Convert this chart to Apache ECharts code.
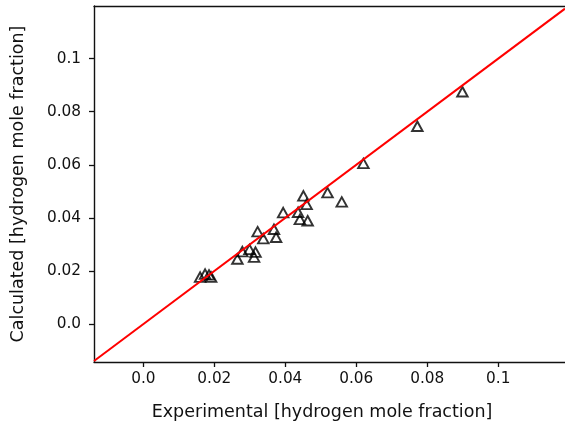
<!DOCTYPE html>
<html>
<head>
<meta charset="utf-8">
<script src="https://cdn.jsdelivr.net/npm/echarts@6/dist/echarts.min.js"></script>
<style>html,body{margin:0;padding:0;background:#fff}#c{width:565px;height:426px}</style>
</head>
<body>
<div id="c"></div>
<script>
// Data
const experimental = [0.0160,0.0174,0.0185,0.0191,0.0265,0.0279,0.0299,0.0312,0.0316,0.0322,0.0338,0.0368,0.0374,0.0394,0.0436,0.0441,0.0451,0.0460,0.0463,0.0519,0.0559,0.0620,0.0772,0.0899];
const calculated   = [0.0177,0.0188,0.0185,0.0177,0.0245,0.0273,0.0281,0.0252,0.0271,0.0348,0.0322,0.0357,0.0327,0.0420,0.0421,0.0394,0.0483,0.0451,0.0389,0.0495,0.0460,0.0605,0.0745,0.0875];
const xRange = [-0.0139, 0.1188];
const yRange = [-0.0143, 0.1198];
const tickValues = [0, 0.02, 0.04, 0.06, 0.08, 0.1];
const tickLabels = ['0.0', '0.02', '0.04', '0.06', '0.08', '0.1'];
const parityLine = [[xRange[0], xRange[0]], [xRange[1], xRange[1]]];

const fmt = v => {
  const i = tickValues.findIndex(t => Math.abs(t - v) < 1e-9);
  return i >= 0 ? tickLabels[i] : '';
};
const axisColor = '#111';
const font = 'DejaVu Sans';

const chart = echarts.init(document.getElementById('c'), null, {renderer: 'canvas'});
chart.setOption({
  animation: false,
  backgroundColor: '#fff',
  grid: {left: 94, right: 0, top: 6, bottom: 64, containLabel: false},
  xAxis: [{
    type: 'value', min: xRange[0], max: xRange[1], position: 'bottom',
    name: 'Experimental [hydrogen mole fraction]', nameLocation: 'middle', nameGap: 41,
    nameTextStyle: {fontFamily: font, fontSize: 17.5, color: '#111', padding: [0, 15, 0, 0]},
    axisLine: {show: true, onZero: false, lineStyle: {color: axisColor, width: 1.4}},
    axisTick: {show: true, length: 5, customValues: tickValues, lineStyle: {color: axisColor, width: 1.3}},
    axisLabel: {customValues: tickValues, formatter: fmt, margin: 10, fontFamily: font, fontSize: 15.3, color: '#111'},
    splitLine: {show: false}
  }, {
    type: 'value', min: xRange[0], max: xRange[1], position: 'top',
    axisLine: {show: true, onZero: false, lineStyle: {color: axisColor, width: 1.4}},
    axisTick: {show: false}, axisLabel: {show: false}, splitLine: {show: false}
  }],
  yAxis: [{
    type: 'value', min: yRange[0], max: yRange[1], position: 'left',
    name: 'Calculated [hydrogen mole fraction]', nameLocation: 'middle', nameGap: 67, nameRotate: 90,
    nameTextStyle: {fontFamily: font, fontSize: 17.5, color: '#111'},
    axisLine: {show: true, onZero: false, lineStyle: {color: axisColor, width: 1.4}},
    axisTick: {show: true, length: 5, customValues: tickValues, lineStyle: {color: axisColor, width: 1.3}},
    axisLabel: {customValues: tickValues, formatter: fmt, margin: 13, fontFamily: font, fontSize: 15.3, color: '#111'},
    splitLine: {show: false}
  }],
  series: [{
    type: 'scatter',
    xAxisIndex: 0, yAxisIndex: 0,
    data: experimental.map((x, i) => [x, calculated[i]]),
    symbol: 'triangle', symbolSize: [10.5, 9.5],
    itemStyle: {color: 'rgba(0,0,0,0)', borderColor: '#000', borderWidth: 1.9},
    z: 2
  }, {
    type: 'line',
    xAxisIndex: 0, yAxisIndex: 0,
    data: parityLine, showSymbol: false, symbol: 'none',
    lineStyle: {color: '#ff0000', width: 2},
    z: 3
  }]
});
</script>
</body>
</html>
